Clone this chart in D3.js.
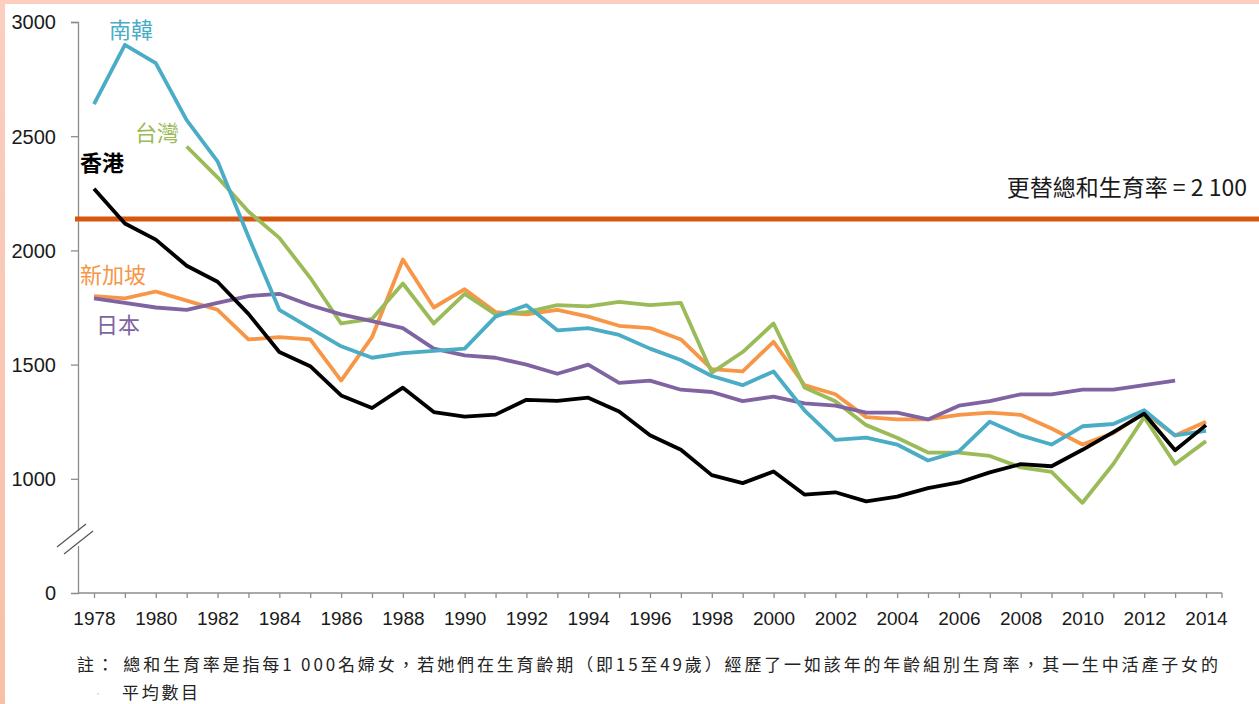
<!DOCTYPE html>
<html>
<head>
<meta charset="utf-8">
<script src="https://cdn.jsdelivr.net/npm/d3@7"></script>
<style>
  html, body { margin: 0; padding: 0; background: #ffffff; }
  svg { display: block; }
</style>
</head>
<body>
<svg id="chart" width="1259" height="704"></svg>
<script>
// ---------------- DATA ----------------
const years = d3.range(1978, 2015);
const xTickLabels = ["1978","1980","1982","1984","1986","1988","1990","1992","1994","1996","1998","2000","2002","2004","2006","2008","2010","2012","2014"];
const yTickValues = [500, 1000, 1500, 2000, 2500, 3000];
const yTickLabels = ["0", "1000", "1500", "2000", "2500", "3000"];

// Total fertility rate per 1 000 women
const hongKong = [2270,2118,2047,1933,1863,1722,1555,1493,1365,1310,1399,1292,1272,1281,1346,1341,1355,1295,1191,1127,1016,981,1032,931,941,901,922,959,984,1028,1064,1055,1127,1204,1285,1125,1235];
const southKorea = [2640,2900,2820,2570,2390,2060,1740,1660,1580,1530,1550,1560,1570,1710,1760,1650,1660,1630,1570,1520,1450,1410,1470,1300,1170,1180,1150,1080,1120,1250,1190,1150,1230,1240,1300,1190,1210];
const taiwanYears = d3.range(1981, 2015);
const taiwan = [2455,2320,2170,2055,1880,1680,1700,1855,1680,1810,1720,1730,1760,1755,1775,1760,1770,1465,1555,1680,1400,1340,1235,1180,1115,1115,1100,1050,1030,895,1065,1270,1065,1165];
const singapore = [1800,1790,1820,1780,1740,1610,1620,1610,1430,1620,1960,1750,1830,1730,1720,1740,1710,1670,1660,1610,1480,1470,1600,1410,1370,1270,1260,1260,1280,1290,1280,1220,1150,1200,1290,1190,1250];
const japanYears = d3.range(1978, 2014);
const japan = [1790,1770,1750,1740,1770,1800,1810,1760,1720,1690,1660,1570,1540,1530,1500,1460,1500,1420,1430,1390,1380,1340,1360,1330,1320,1290,1290,1260,1320,1340,1370,1370,1390,1390,1410,1430];

const replacementLevel = 2137;   // where the reference line is drawn
const replacementLabel = "更替總和生育率 = 2 100";

const seriesNames = ["南韓", "台灣", "香港", "新加坡", "日本"];
const footnote1 = "註： 總和生育率是指每1 000名婦女，若她們在生育齡期（即15至49歲）經歷了一如該年的年齡組別生育率，其一生中活產子女的";
const footnote2 = "平均數目";

// ---------------- CHART ----------------
const svg = d3.select("#chart");

// pink frame strips
svg.append("rect").attr("x", 0).attr("y", 0).attr("width", 1259).attr("height", 4).attr("fill", "#fbcebf");
const grad = svg.append("defs").append("linearGradient").attr("id", "lg").attr("x1", "0").attr("x2", "0").attr("y1", "0").attr("y2", "1");
grad.append("stop").attr("offset", "0").attr("stop-color", "#fbcebf");
grad.append("stop").attr("offset", "1").attr("stop-color", "#f8c0a8");
svg.append("rect").attr("x", 0).attr("y", 0).attr("width", 5).attr("height", 704).attr("fill", "url(#lg)");

const x = d3.scaleLinear().domain([1978, 2014]).range([94, 1206]);
const y = d3.scaleLinear().domain([500, 3000]).range([593, 22]);

const axisColor = "#8c8c8c";
const fontNum = "'Liberation Sans', Arial, sans-serif";
const fontCJK = "'Noto Sans CJK TC', 'Noto Sans CJK SC', sans-serif";

// Y axis
const yAxis = d3.axisLeft(y).tickValues(yTickValues).tickSize(7).tickFormat((d, i) => yTickLabels[i]);
const gy = svg.append("g").attr("transform", "translate(78,0)").call(yAxis);
gy.select(".domain").attr("stroke", axisColor).attr("stroke-width", 1.3);
gy.selectAll(".tick line").attr("stroke", axisColor).attr("stroke-width", 1.3);
gy.selectAll(".tick text").attr("font-family", fontNum).attr("font-size", 20).attr("fill", "#1a1a1a").attr("x", -22).attr("dy", "0.34em");
gy.selectAll(".tick").filter(d => d === 500).select("line").remove();

// axis break marks
const brk = svg.append("g");
brk.append("rect").attr("x", 75).attr("y", 531).attr("width", 7).attr("height", 15).attr("fill", "#fff");
[[0, 0], [7, 7]].forEach(([dx, dy]) => {
  brk.append("line").attr("x1", 57 + dx).attr("y1", 547 + dy).attr("x2", 86 + dx).attr("y2", 524 + dy)
    .attr("stroke", "#555").attr("stroke-width", 1.2);
});

// X axis
const xAxis = d3.axisBottom(x).tickValues(years).tickSize(5).tickFormat(d => (xTickLabels.includes(String(d)) ? String(d) : ""));
const gx = svg.append("g").attr("transform", "translate(0,593)").call(xAxis);
gx.select(".domain").remove();
gx.append("line").attr("x1", 78).attr("x2", 1222).attr("y1", 0).attr("y2", 0).attr("stroke", axisColor).attr("stroke-width", 1.3);
gx.append("line").attr("x1", 1222).attr("x2", 1222).attr("y1", 0).attr("y2", 5).attr("stroke", axisColor).attr("stroke-width", 1.3);
gx.selectAll(".tick line").attr("stroke", axisColor).attr("stroke-width", 1.3);
gx.selectAll(".tick text").attr("font-family", fontNum).attr("font-size", 19).attr("fill", "#1a1a1a").attr("y", 19).attr("dy", "0.71em");

// reference line
svg.append("line").attr("x1", 75).attr("x2", 1259).attr("y1", y(replacementLevel)).attr("y2", y(replacementLevel))
  .attr("stroke", "#d6570e").attr("stroke-width", 5);
svg.append("text").attr("x", 1247).attr("y", 196).attr("text-anchor", "end")
  .attr("font-family", fontCJK).attr("font-size", 23).attr("fill", "#1a1a1a").text(replacementLabel);

// series lines
const line = d3.line().x(d => x(d[0])).y(d => y(d[1]));
const series = [
  { name: seriesNames[3], color: "#f79646", yrs: years, vals: singapore },
  { name: seriesNames[1], color: "#9bbb59", yrs: taiwanYears, vals: taiwan },
  { name: seriesNames[4], color: "#8064a2", yrs: japanYears, vals: japan },
  { name: seriesNames[0], color: "#4bacc6", yrs: years, vals: southKorea },
  { name: seriesNames[2], color: "#000000", yrs: years, vals: hongKong }
];
series.forEach(s => {
  svg.append("path").datum(s.yrs.map((yr, i) => [yr, s.vals[i]]))
    .attr("d", line).attr("fill", "none").attr("stroke", s.color)
    .attr("stroke-width", 3.8).attr("stroke-linejoin", "round");
});

// series labels
const labels = [
  { t: seriesNames[0], x: 109, y: 38, c: "#4bacc6", w: "normal" },
  { t: seriesNames[1], x: 135, y: 141, c: "#9bbb59", w: "normal" },
  { t: seriesNames[2], x: 80, y: 171, c: "#000000", w: "bold" },
  { t: seriesNames[3], x: 80, y: 283, c: "#f79646", w: "normal" },
  { t: seriesNames[4], x: 96, y: 333, c: "#8064a2", w: "normal" }
];
labels.forEach(l => {
  svg.append("text").attr("x", l.x).attr("y", l.y).attr("font-family", fontCJK).attr("font-size", 22)
    .attr("font-weight", l.w).attr("fill", l.c).text(l.t);
});

// footnote
svg.append("text").attr("x", 77).attr("y", 671).attr("font-family", fontCJK).attr("font-size", 17)
  .attr("fill", "#222").attr("letter-spacing", 2.85).attr("xml:space", "preserve").style("white-space", "pre").text(footnote1);
svg.append("text").attr("x", 122).attr("y", 699).attr("font-family", fontCJK).attr("font-size", 17)
  .attr("fill", "#222").attr("letter-spacing", 2.7).text(footnote2);
svg.append("circle").attr("cx", 98).attr("cy", 694).attr("r", 0.8).attr("fill", "#bbb");
</script>
</body>
</html>
